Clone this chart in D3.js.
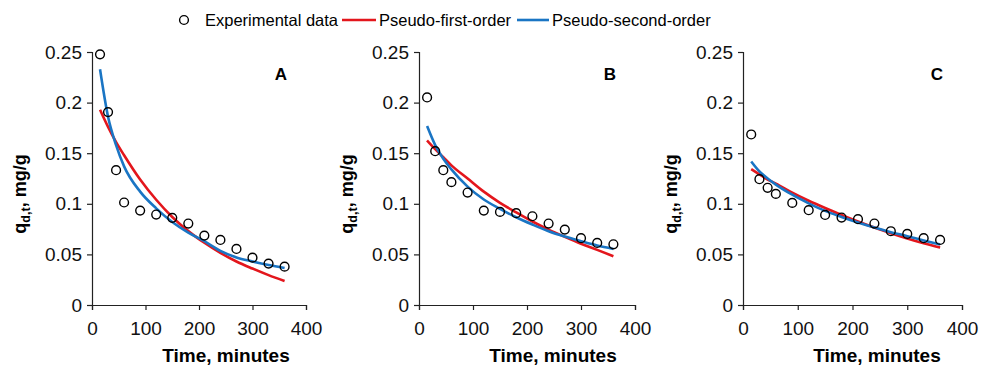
<!DOCTYPE html>
<html>
<head>
<meta charset="utf-8">
<script src="https://cdn.jsdelivr.net/npm/d3@7.9.0/dist/d3.min.js"></script>
<style>
  body { margin: 0; background: #fff; }
  svg { display: block; font-family: "Liberation Sans", Arial, sans-serif; }
</style>
</head>
<body>
<svg id="chart" width="981" height="365"></svg>
<script>
// time points (minutes)
const times = [15, 30, 45, 60, 90, 120, 150, 180, 210, 240, 270, 300, 330, 360];

// experimental q_d,t (mg/g)
const expA = [0.2477, 0.1906, 0.1332, 0.1013, 0.0933, 0.0894, 0.0861, 0.0805, 0.0686, 0.0643, 0.0554, 0.0468, 0.0409, 0.0379];
const expB = [0.2051, 0.1520, 0.1332, 0.1214, 0.1111, 0.0933, 0.0920, 0.0907, 0.0877, 0.0805, 0.0745, 0.0660, 0.0613, 0.0600];
const expC = [0.1685, 0.1243, 0.1158, 0.1098, 0.1009, 0.0937, 0.0890, 0.0864, 0.0848, 0.0805, 0.0729, 0.0702, 0.0660, 0.0643];

// fitted curves at the same times
const pfoA = [0.193, 0.176, 0.161, 0.148, 0.124, 0.104, 0.087, 0.073, 0.0615, 0.0515, 0.043, 0.036, 0.0295, 0.0237];
const psoA = [0.2329, 0.186, 0.158, 0.137, 0.112, 0.0955, 0.082, 0.0715, 0.063, 0.0535, 0.047, 0.043, 0.0395, 0.0365];
const pfoB = [0.1626, 0.154, 0.146, 0.138, 0.125, 0.112, 0.101, 0.0915, 0.0825, 0.0745, 0.0673, 0.0605, 0.0545, 0.0482];
const psoB = [0.1768, 0.158, 0.1445, 0.134, 0.117, 0.1042, 0.095, 0.0867, 0.0795, 0.0729, 0.0676, 0.063, 0.0587, 0.0554];
const pfoC = [0.1342, 0.129, 0.124, 0.120, 0.111, 0.103, 0.0958, 0.089, 0.0825, 0.0765, 0.071, 0.0658, 0.061, 0.0567];
const psoC = [0.1418, 0.132, 0.125, 0.119, 0.109, 0.1005, 0.093, 0.087, 0.0815, 0.0765, 0.072, 0.068, 0.0637, 0.0597];

const panelLabels = ["A", "B", "C"];
const xTicks = [0, 100, 200, 300, 400];
const yTicks = [0, 0.05, 0.1, 0.15, 0.2, 0.25];
const legendLabels = ["Experimental data", "Pseudo-first-order", "Pseudo-second-order"];

const RED = "#e3161c";
const BLUE = "#1a75c4";

const svg = d3.select("#chart");

const panels = [
  { left: 92,  right: 306, exp: expA, pfo: pfoA, pso: psoA },
  { left: 419, right: 635, exp: expB, pfo: pfoB, pso: psoB },
  { left: 743, right: 962, exp: expC, pfo: pfoC, pso: psoC }
];
const plotTop = 52, plotBottom = 305;

panels.forEach((p, i) => {
  const x = d3.scaleLinear().domain([0, 400]).range([p.left, p.right]);
  const y = d3.scaleLinear().domain([0, 0.25]).range([plotBottom, plotTop]);

  const yAxis = svg.append("g")
    .attr("transform", `translate(${p.left},0)`)
    .call(d3.axisLeft(y).tickValues(yTicks).tickSize(5).tickPadding(5)
      .tickFormat(d => d === 0 ? "0" : String(+d.toFixed(2))));
  const xAxis = svg.append("g")
    .attr("transform", `translate(0,${plotBottom})`)
    .call(d3.axisBottom(x).tickValues(xTicks).tickSize(5).tickPadding(12));

  [xAxis, yAxis].forEach(ax => {
    ax.select(".domain").attr("stroke", "#222").attr("stroke-width", 1.2);
    ax.selectAll(".tick line").attr("stroke", "#222").attr("stroke-width", 1.2);
    ax.selectAll("text").attr("fill", "#111").style("font-size", "19px")
      .style("font-family", "'Liberation Sans', Arial, sans-serif");
  });

  const line = d3.line()
    .x((d, j) => x(times[j]))
    .y(d => y(d))
    .curve(d3.curveMonotoneX);

  svg.append("path").attr("d", line(p.pfo))
    .attr("fill", "none").attr("stroke", RED).attr("stroke-width", 2.6);
  svg.append("path").attr("d", line(p.pso))
    .attr("fill", "none").attr("stroke", BLUE).attr("stroke-width", 2.6);

  svg.append("g").selectAll("circle")
    .data(p.exp)
    .join("circle")
    .attr("cx", (d, j) => x(times[j]))
    .attr("cy", d => y(d))
    .attr("r", 4.4)
    .attr("fill", "none")
    .attr("stroke", "#000")
    .attr("stroke-width", 1.4);

  // panel letter
  svg.append("text")
    .attr("x", p.right - 25)
    .attr("y", 80)
    .attr("text-anchor", "middle")
    .style("font-size", "17px").style("font-weight", "bold")
    .text(panelLabels[i]);

  // x title
  svg.append("text")
    .attr("x", p.left + 134)
    .attr("y", 362)
    .attr("text-anchor", "middle")
    .style("font-size", "19px").style("font-weight", "bold")
    .text("Time, minutes");

  // y title
  const yt = svg.append("text")
    .attr("transform", `translate(${p.left - 66},194) rotate(-90)`)
    .attr("text-anchor", "middle")
    .style("font-size", "18px").style("font-weight", "bold");
  yt.append("tspan").text("q");
  yt.append("tspan").attr("dy", 4).style("font-size", "12.5px").text("d,t");
  yt.append("tspan").attr("dy", -4).text(", mg/g");
});

// legend
const lg = svg.append("g").style("font-size", "16.5px");
lg.append("circle").attr("cx", 184).attr("cy", 20).attr("r", 4.4)
  .attr("fill", "none").attr("stroke", "#000").attr("stroke-width", 1.4);
lg.append("text").attr("x", 205).attr("y", 26).text(legendLabels[0]);
lg.append("line").attr("x1", 342).attr("x2", 376).attr("y1", 20).attr("y2", 20)
  .attr("stroke", RED).attr("stroke-width", 2.6);
lg.append("text").attr("x", 379).attr("y", 26).text(legendLabels[1]);
lg.append("line").attr("x1", 517).attr("x2", 549).attr("y1", 20).attr("y2", 20)
  .attr("stroke", BLUE).attr("stroke-width", 2.6);
lg.append("text").attr("x", 552).attr("y", 26).text(legendLabels[2]);
</script>
</body>
</html>
